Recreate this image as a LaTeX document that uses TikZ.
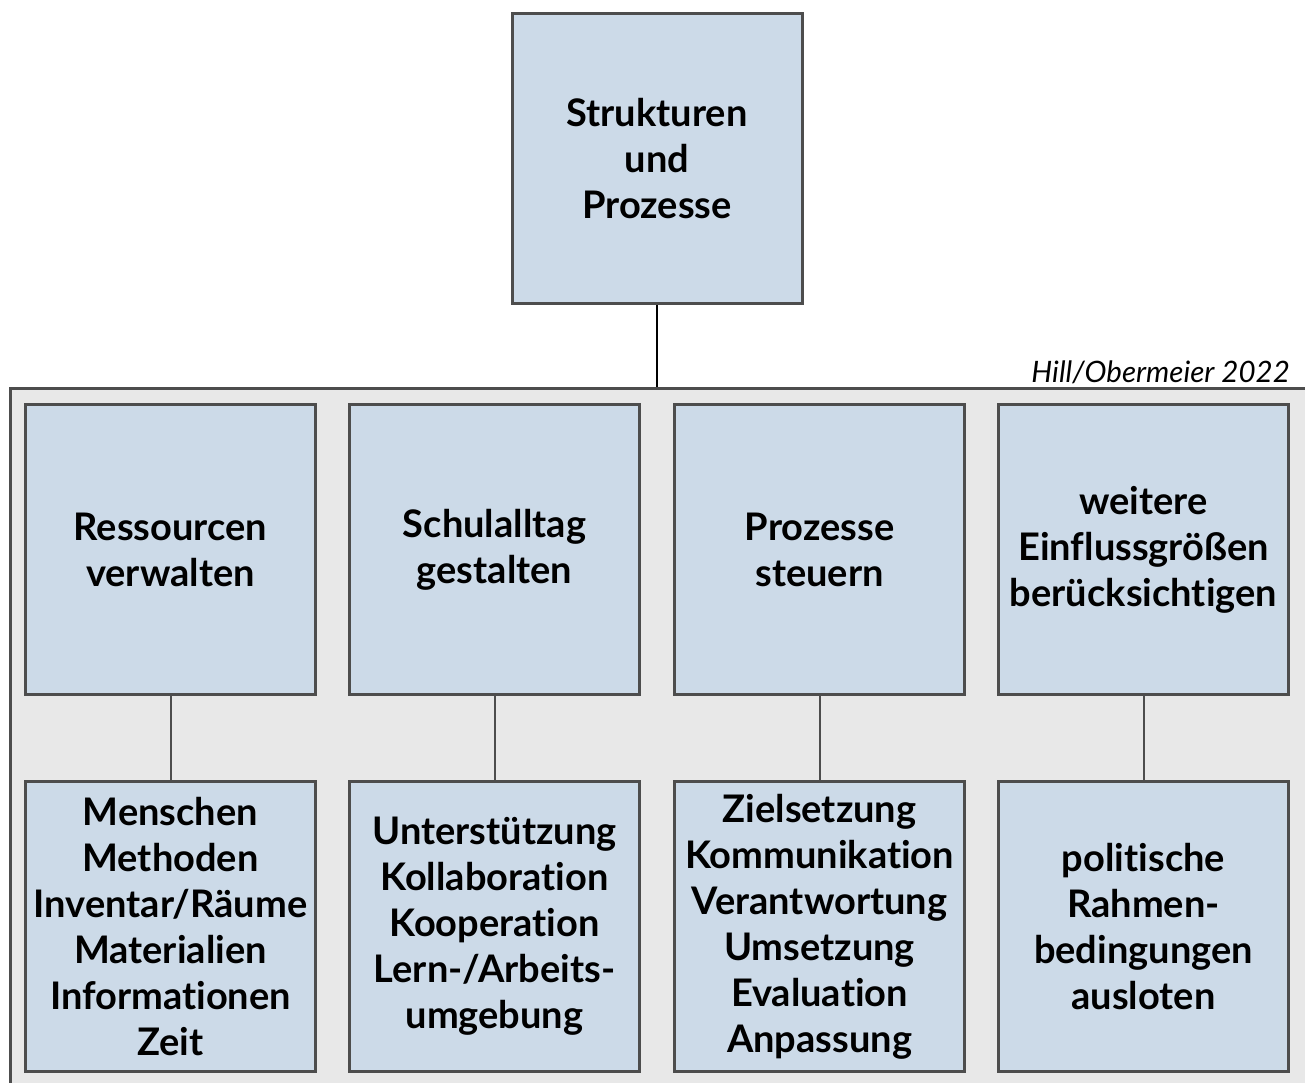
\documentclass[tikz,border=0pt]{standalone}
\usepackage{fontspec}
\setmainfont{Lato}[Ligatures=NoCommon]
\definecolor{boxblue}{RGB}{204,218,232}
\definecolor{panelgray}{RGB}{232,232,232}
\definecolor{edgegray}{RGB}{77,77,77}
\begin{document}
\begin{tikzpicture}[x=1pt, y=-1pt,
    every node/.style={align=center, inner sep=0pt},
    topic/.style={draw=edgegray, line width=3pt, fill=boxblue,
      minimum width=290pt, minimum height=290pt,
      font=\fontsize{38}{46}\selectfont\bfseries},
    panel/.style={draw=edgegray, line width=3pt, fill=panelgray,
      minimum width=1310pt, minimum height=707pt},
    link/.style={line width=2pt}]
    \useasboundingbox (0,0) rectangle (1305,1082);
    \node[panel] (frame) at (665,741.5) {};
    \node[topic] (root) at (657,158.5) {Strukturen\\und\\Prozesse};
    \node[anchor=base east, font=\fontsize{29.5}{32}\selectfont\itshape] (source)
      at (1290,382) {Hill/Obermeier 2022};
    % obere Reihe
    \node[topic] (res) at (170.5,549.5) {Ressourcen\\verwalten};
    \node[topic] (all) at (494.5,549.5) {Schulalltag\\gestalten};
    \node[topic] (pro) at (819.5,549.5) {Prozesse\\steuern};
    \node[topic] (ein) at (1143.5,549.5) {weitere\\Einflussgrößen\\berücksichtigen};
    % untere Reihe
    \node[topic] (resd) at (170.5,926.5)
      {Menschen\\Methoden\\Inventar/Räume\\Materialien\\Informationen\\Zeit};
    \node[topic] (alld) at (494.5,926.5)
      {Unterstützung\\Kollaboration\\Kooperation\\Lern-/Arbeits-\\umgebung};
    \node[topic] (prod) at (819.5,926.5)
      {Zielsetzung\\Kommunikation\\Verantwortung\\Umsetzung\\Evaluation\\Anpassung};
    \node[topic] (eind) at (1143.5,926.5)
      {politische\\Rahmen-\\bedingungen\\ausloten};
    \draw[link] (root.south) -- (root.south |- frame.north);
    \draw[link, edgegray] (res) -- (resd);
    \draw[link, edgegray] (all) -- (alld);
    \draw[link, edgegray] (pro) -- (prod);
    \draw[link, edgegray] (ein) -- (eind);
\end{tikzpicture}
\end{document}
